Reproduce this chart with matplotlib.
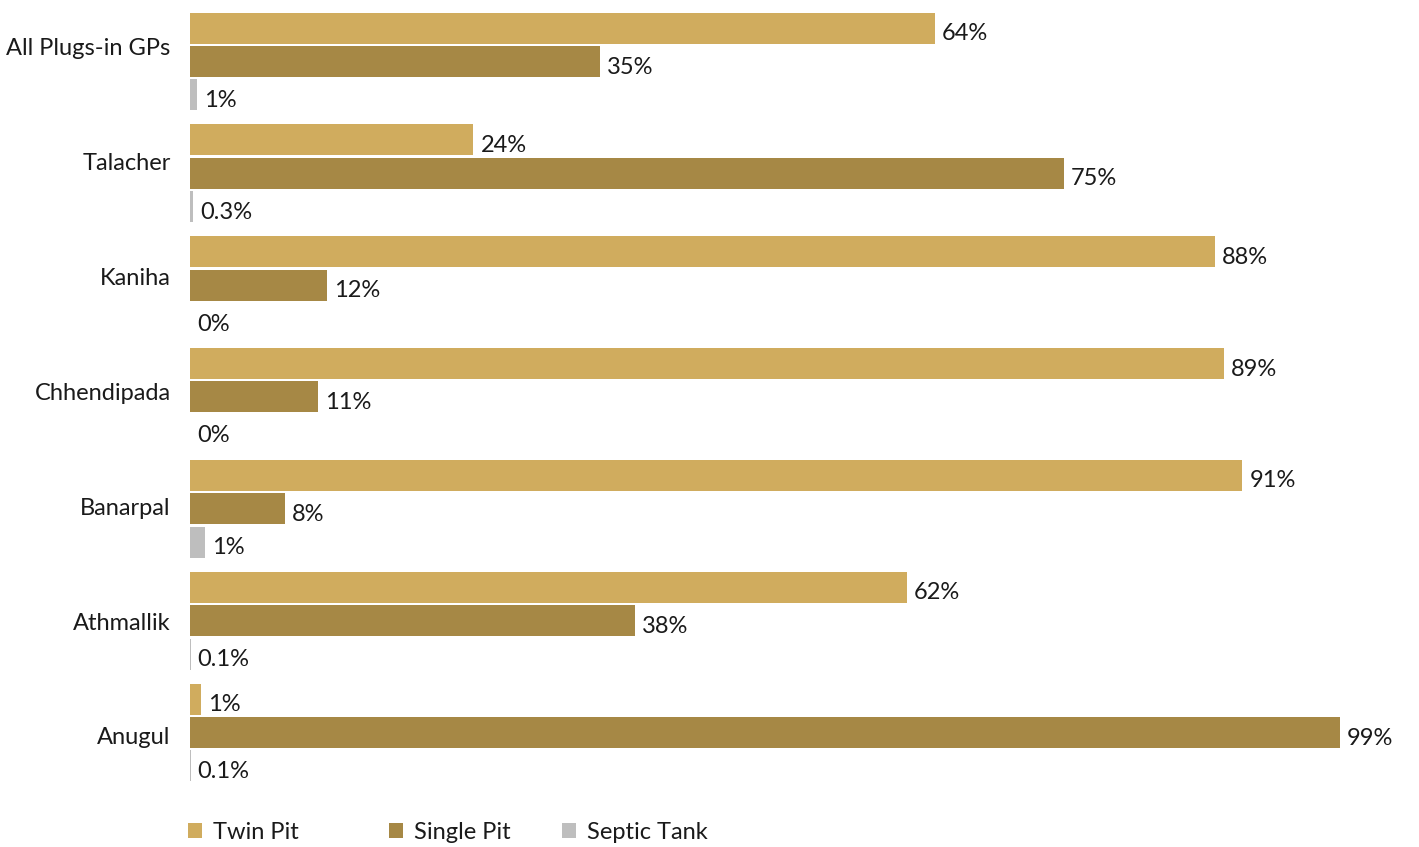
import numpy as np
from matplotlib import pyplot as plt

plt.rcParams['font.family'] = ['Lato', 'DejaVu Sans']

blocks = ['All Plugs-in GPs', 'Talacher', 'Kaniha', 'Chhendipada', 'Banarpal', 'Athmallik', 'Anugul']

# bar lengths (%), labels as printed
twin_pit = [64.1, 24.4, 88.2, 89.0, 90.6, 61.7, 0.95]
single_pit = [35.3, 75.2, 11.8, 11.0, 8.2, 38.3, 99.0]
septic_tank = [0.6, 0.26, 0.0, 0.0, 1.3, 0.05, 0.05]

twin_labels = ['64%', '24%', '88%', '89%', '91%', '62%', '1%']
single_labels = ['35%', '75%', '12%', '11%', '8%', '38%', '99%']
septic_labels = ['1%', '0.3%', '0%', '0%', '1%', '0.1%', '0.1%']

c_twin = '#D0AC5E'
c_single = '#A68845'
c_septic = '#BEBEBE'
txt = '#1a1a1a'

fig = plt.figure(figsize=(14.19, 8.47), dpi=100)
ax = fig.add_axes([190 / 1419, 47 / 847, 1229 / 1419, 800 / 847])

y = np.arange(len(blocks))
h = 0.277
step = 0.299

series = [(twin_pit, twin_labels, c_twin, 'Twin Pit', -step),
          (single_pit, single_labels, c_single, 'Single Pit', 0),
          (septic_tank, septic_labels, c_septic, 'Septic Tank', step)]

handles = []
for vals, labs, col, name, off in series:
    bars = ax.barh(y + off, vals, height=h, color=col, label=name, linewidth=0)
    handles.append(bars)
    for b, lab in zip(bars, labs):
        ax.annotate(lab, (b.get_width(), b.get_y() + b.get_height() / 2),
                    xytext=(5, -4), textcoords='offset points',
                    va='center', ha='left', fontsize=17, color=txt)

ax.set_xlim(0, 105.8)
ax.set_ylim(6.604, -0.55)
# category labels drift slightly against the bar groups in the original
ax.set_yticks(y * 1.0268 - 0.13)
ax.set_yticklabels(blocks, fontsize=17, color=txt)
ax.tick_params(axis='y', length=0, pad=14)
ax.set_xticks([])
for s in ax.spines.values():
    s.set_visible(False)

# one legend per entry so the uneven spacing of the original is kept
leg_x = [188, 389, 562]
for hd, x0 in zip(handles, leg_x):
    lg = fig.legend([hd], [hd.get_label()], loc='center left',
                    bbox_to_anchor=(x0 / 1419, 1 - 832 / 847), frameon=False,
                    fontsize=17, handlelength=0.6, handleheight=0.6, handletextpad=0.45,
                    borderaxespad=0, borderpad=0)
    for t in lg.get_texts():
        t.set_color(txt)

fig.savefig('out.png', dpi=100)
